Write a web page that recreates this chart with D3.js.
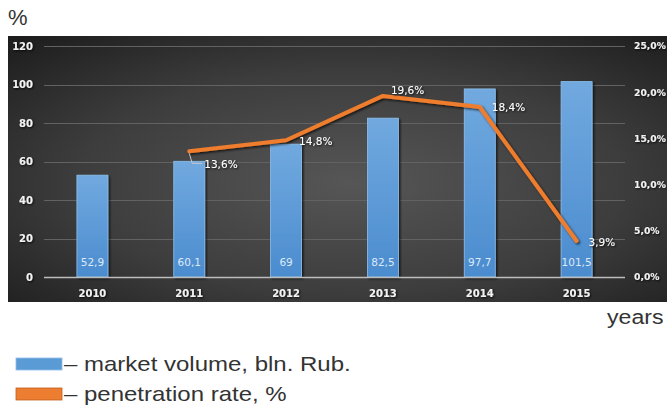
<!DOCTYPE html>
<html>
<head>
<meta charset="utf-8">
<script src="https://cdn.jsdelivr.net/npm/d3@7"></script>
<style>
  html, body { margin: 0; padding: 0; background: #ffffff; }
  svg { display: block; }
</style>
</head>
<body>
<svg id="chart" width="667" height="405"></svg>
<script>
// ---- data ----
const years = ["2010", "2011", "2012", "2013", "2014", "2015"];
const marketVolume = [52.9, 60.1, 69, 82.5, 97.7, 101.5];
const penetrationRate = [null, 13.6, 14.8, 19.6, 18.4, 3.9];
const leftTicks = [0, 20, 40, 60, 80, 100, 120];
const rightTicks = [0, 5, 10, 15, 20, 25];
const legendLabels = ["– market volume, bln. Rub.", "– penetration rate, %"];
const unitLabel = "%";
const xTitle = "years";

// ---- layout ----
const W = 667, H = 405;
const panel = { x: 8, y: 36, w: 659, h: 266 };
const plot = { left: 44, right: 625, top: 46, bottom: 277 };

const svg = d3.select("#chart");
const defs = svg.append("defs");

const bg = defs.append("radialGradient").attr("id", "bgGrad")
  .attr("cx", "52%").attr("cy", "55%").attr("r", "75%");
bg.append("stop").attr("offset", "0%").attr("stop-color", "#565656");
bg.append("stop").attr("offset", "55%").attr("stop-color", "#3d3d3d");
bg.append("stop").attr("offset", "100%").attr("stop-color", "#1c1c1c");

const barGrad = defs.append("linearGradient").attr("id", "barGrad")
  .attr("x1", 0).attr("y1", 0).attr("x2", 0).attr("y2", 1);
barGrad.append("stop").attr("offset", "0%").attr("stop-color", "#71a9df");
barGrad.append("stop").attr("offset", "100%").attr("stop-color", "#4b8ccf");

const shadow = defs.append("filter").attr("id", "shadow")
  .attr("x", "-30%").attr("y", "-30%").attr("width", "160%").attr("height", "160%");
shadow.append("feDropShadow").attr("dx", 1).attr("dy", 1).attr("stdDeviation", 1)
  .attr("flood-color", "#000").attr("flood-opacity", 0.85);

const lineShadow = defs.append("filter").attr("id", "lineShadow")
  .attr("x", "-10%").attr("y", "-10%").attr("width", "120%").attr("height", "120%");
lineShadow.append("feDropShadow").attr("dx", 1.5).attr("dy", 1.5).attr("stdDeviation", 1.2)
  .attr("flood-color", "#000").attr("flood-opacity", 0.7);

// panel
svg.append("rect").attr("x", panel.x).attr("y", panel.y)
  .attr("width", panel.w).attr("height", panel.h).attr("fill", "url(#bgGrad)");

// scales
const x = d3.scaleBand().domain(years).range([plot.left, plot.right])
  .paddingInner(0.68).paddingOuter(0.34);
const yL = d3.scaleLinear().domain([0, 120]).range([plot.bottom, plot.top]);
const yR = d3.scaleLinear().domain([0, 25]).range([plot.bottom, plot.top]);

const fmtNum = v => String(v).replace(".", ",");
const fmtPct = v => v.toFixed(1).replace(".", ",") + "%";

// gridlines
svg.append("g").selectAll("line").data(leftTicks.filter(t => t > 0)).join("line")
  .attr("x1", plot.left).attr("x2", plot.right)
  .attr("y1", d => Math.round(yL(d)) + 0.5).attr("y2", d => Math.round(yL(d)) + 0.5)
  .attr("stroke", "#626262").attr("stroke-width", 1);

// axes
const tickFont = size => g => g.selectAll("text")
  .attr("font-family", "DejaVu Sans").attr("font-weight", "bold")
  .attr("font-size", size).attr("fill", "#f2f2f2").attr("filter", "url(#shadow)");

const gL = svg.append("g").attr("transform", `translate(${plot.left},0)`)
  .call(d3.axisLeft(yL).tickValues(leftTicks).tickSize(0).tickPadding(11).tickFormat(d3.format("d")));
gL.select(".domain").remove();
gL.call(tickFont(10));

const gR = svg.append("g").attr("transform", `translate(${plot.right},0)`)
  .call(d3.axisRight(yR).tickValues(rightTicks).tickSize(0).tickPadding(9).tickFormat(fmtPct));
gR.select(".domain").remove();
gR.call(tickFont(9.2));

// bars
svg.append("g").selectAll("rect").data(marketVolume).join("rect")
  .attr("x", (d, i) => x(years[i]))
  .attr("y", d => yL(d))
  .attr("width", x.bandwidth())
  .attr("height", d => yL(0) - yL(d))
  .attr("fill", "url(#barGrad)")
  .attr("stroke", "#8fc0ee").attr("stroke-width", 0.8)
  .attr("filter", "url(#lineShadow)");

// baseline
svg.append("line").attr("x1", plot.left).attr("x2", plot.right)
  .attr("y1", plot.bottom + 0.5).attr("y2", plot.bottom + 0.5)
  .attr("stroke", "#bdbdbd").attr("stroke-width", 1.6);

const gX = svg.append("g").attr("transform", `translate(0,${plot.bottom})`)
  .call(d3.axisBottom(x).tickSize(0).tickPadding(13));
gX.select(".domain").remove();
gX.call(tickFont(10));

// bar value labels
svg.append("g").selectAll("text").data(marketVolume).join("text")
  .attr("x", (d, i) => x(years[i]) + x.bandwidth() / 2)
  .attr("y", plot.bottom - 11)
  .attr("text-anchor", "middle")
  .attr("font-family", "DejaVu Sans").attr("font-size", 10.5)
  .attr("fill", "#dde9f7")
  .text(d => fmtNum(d));

// line
const pts = penetrationRate.map((v, i) => ({ v, i })).filter(d => d.v !== null);
const line = d3.line().x(d => x(years[d.i]) + x.bandwidth() / 2).y(d => yR(d.v));
svg.append("path").datum(pts).attr("d", line)
  .attr("fill", "none").attr("stroke", "#ef7d2f").attr("stroke-width", 4)
  .attr("stroke-linejoin", "round").attr("stroke-linecap", "round")
  .attr("filter", "url(#lineShadow)");

// line labels
const labelOffset = { 1: [15, 13], 2: [13, 1], 3: [8, -6], 4: [12, 0], 5: [12, 1] };
const first = pts[0];
const fx = x(years[first.i]) + x.bandwidth() / 2, fy = yR(first.v);
svg.append("path")
  .attr("d", `M${fx},${fy + 2} L${fx + 3},${fy + 12} L${fx + 13},${fy + 12}`)
  .attr("fill", "none").attr("stroke", "#c8c8c8").attr("stroke-width", 1);

svg.append("g").selectAll("text").data(pts).join("text")
  .attr("x", d => x(years[d.i]) + x.bandwidth() / 2 + labelOffset[d.i][0])
  .attr("y", d => yR(d.v) + labelOffset[d.i][1])
  .attr("dy", "0.35em")
  .attr("font-family", "DejaVu Sans").attr("font-size", 10.5)
  .attr("fill", "#ffffff").attr("filter", "url(#shadow)")
  .text(d => fmtPct(d.v));

// outside texts
svg.append("text").attr("x", 8).attr("y", 25)
  .attr("font-family", "Liberation Sans").attr("font-size", 22).attr("fill", "#333")
  .text(unitLabel);

svg.append("text").attr("x", 0).attr("y", 0)
  .attr("transform", "translate(607,324) scale(1.1,1)")
  .attr("font-family", "Liberation Sans").attr("font-size", 21).attr("fill", "#333")
  .text(xTitle);

// legend
const legendColors = ["#5b9bd5", "#ed7d31"];
const legendStroke = ["#8fbde8", "#c05e1c"];
const lg = svg.append("g");
legendLabels.forEach((lab, i) => {
  const yy = 358 + i * 30;
  lg.append("rect").attr("x", 16).attr("y", yy).attr("width", 46).attr("height", 12)
    .attr("fill", legendColors[i]).attr("stroke", legendStroke[i]).attr("stroke-width", 0.8);
  lg.append("text").attr("x", 0).attr("y", 0)
    .attr("transform", `translate(64,${yy + 13}) scale(1.2,1)`)
    .attr("font-family", "Liberation Sans").attr("font-size", 20).attr("fill", "#333")
    .text(lab);
});
</script>
</body>
</html>
